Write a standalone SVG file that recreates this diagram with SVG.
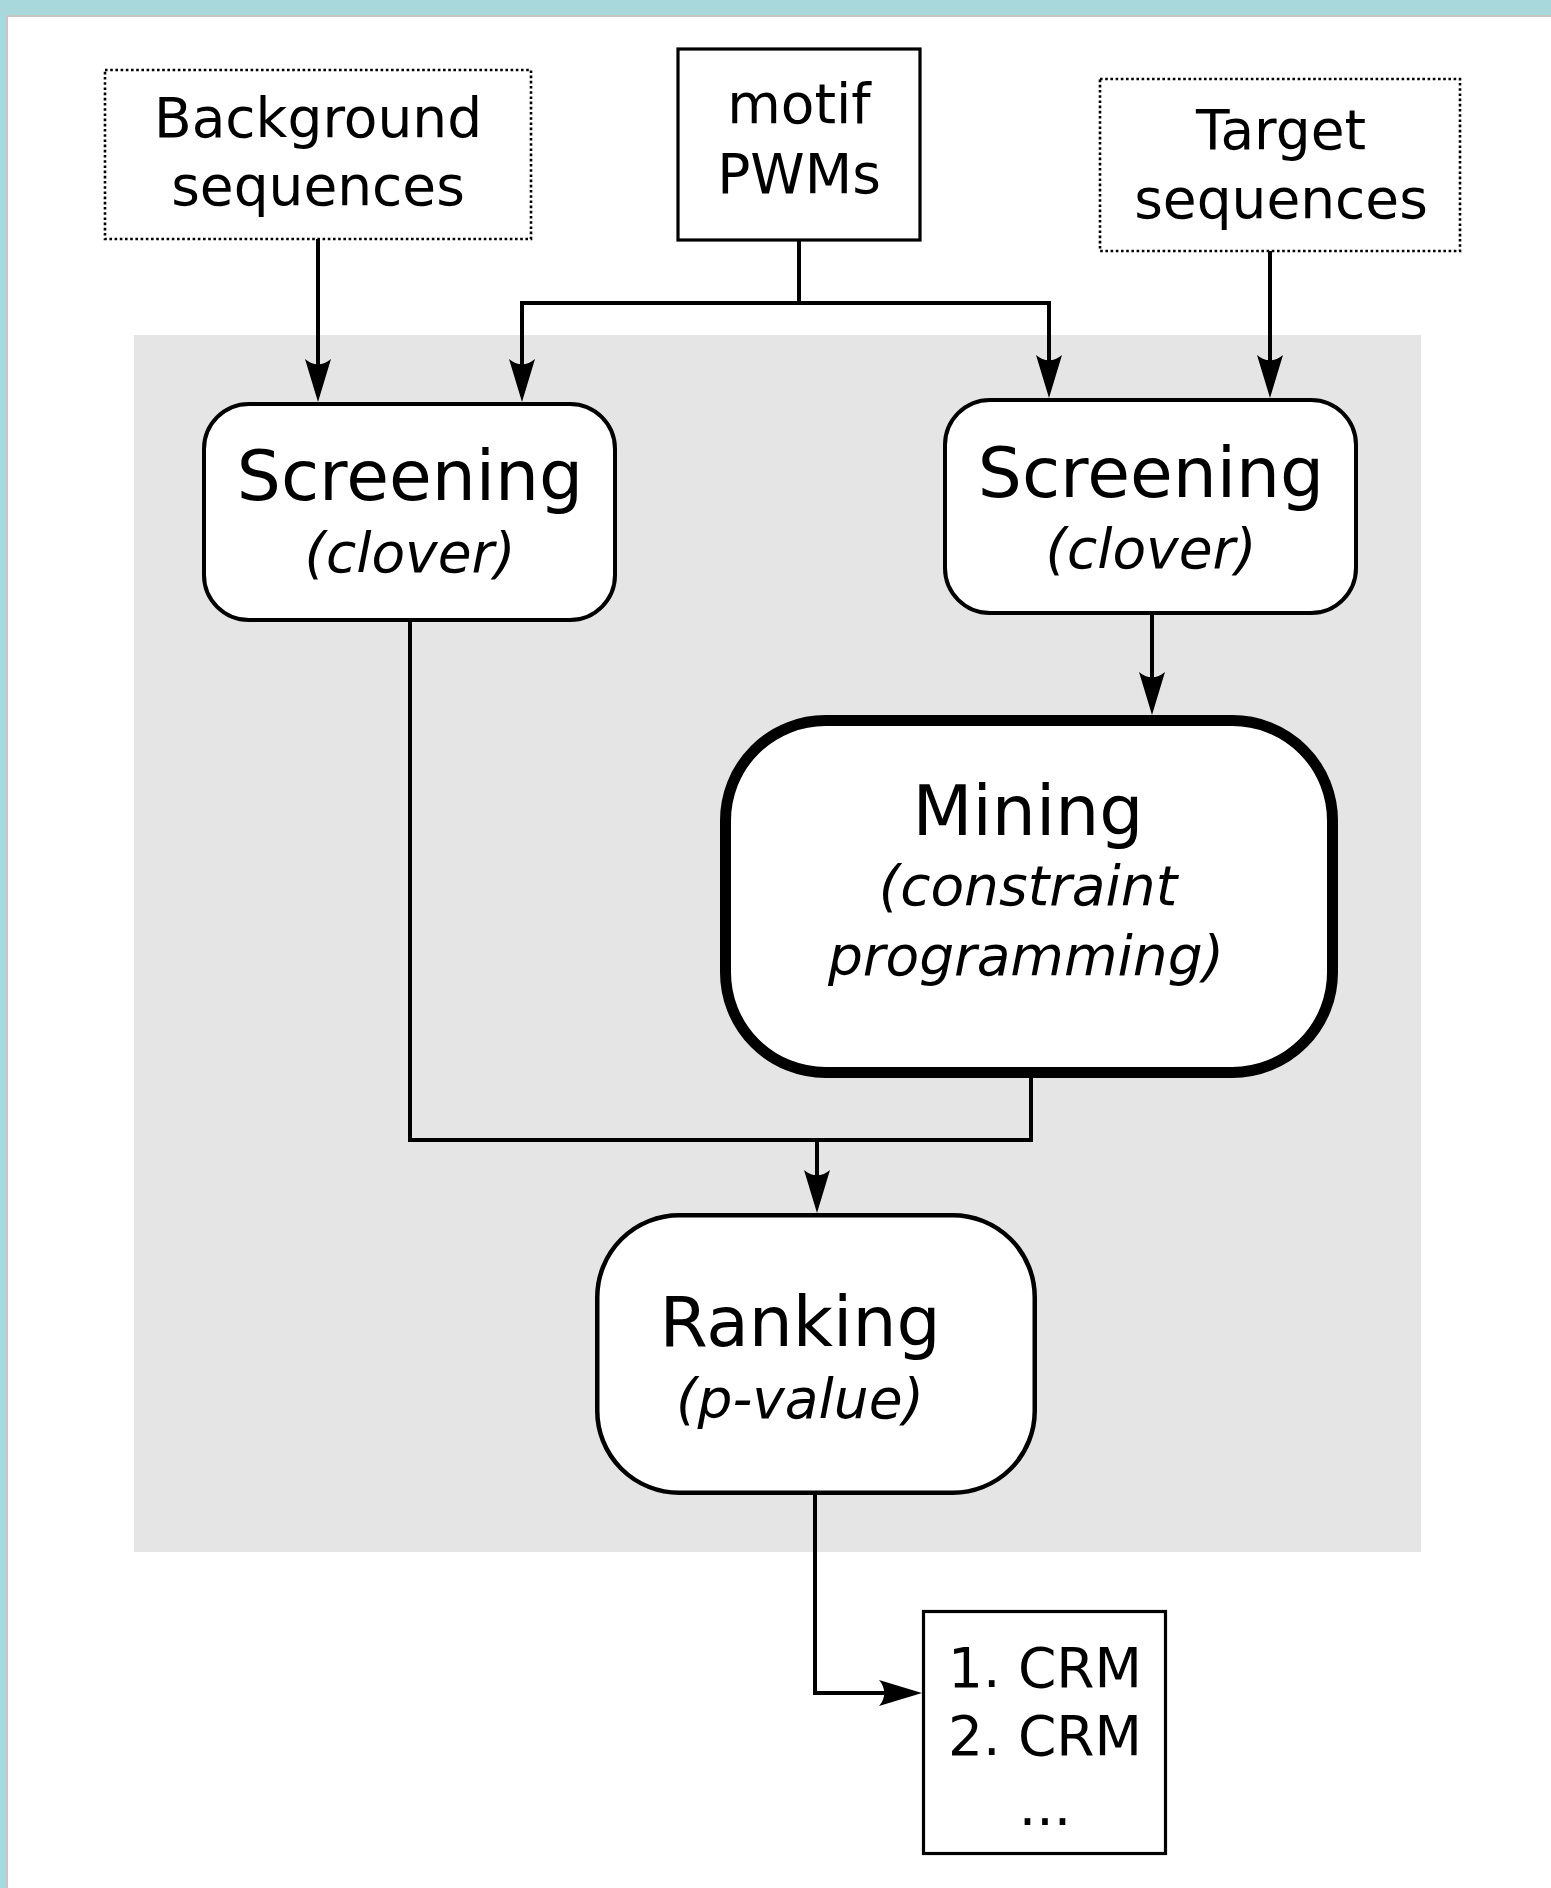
<svg xmlns="http://www.w3.org/2000/svg" width="1551" height="1888" viewBox="0 0 1551 1888">
<defs>
<style>
text{font-family:"DejaVu Sans","Liberation Sans",sans-serif;fill:#000;text-anchor:middle}
.t{font-size:69.5px}
.s{font-size:55px}
.i{font-size:55px;font-style:italic}
.dot{fill:#fff;stroke:#000;stroke-width:2.6;stroke-dasharray:2.6 2.6}
.plain{fill:#fff;stroke:#000;stroke-width:3.2}
.proc{fill:#fff;stroke:#000;stroke-width:4}
.conn{fill:none;stroke:#000;stroke-width:4;stroke-linejoin:miter}
.ar{marker-end:url(#arr)}
</style>
<marker id="arr" viewBox="-46 -15 48 30" markerWidth="48" markerHeight="30" refX="-30" refY="0" orient="auto" markerUnits="userSpaceOnUse">
<path d="M0,0 L-43,-13 C-36,-5 -36,5 -43,13 Z" fill="#000"/>
</marker>
</defs>
<rect x="0" y="0" width="1551" height="1888" fill="#a9d8dc"/>
<rect x="6" y="15" width="1545" height="1873" fill="#c9c5c2"/>
<rect x="8" y="17" width="1543" height="1871" fill="#fff"/>
<rect x="134" y="335" width="1287" height="1217" fill="#e5e5e5"/>
<g id="connectors">
<path class="conn ar" d="M318,239 V372"/>
<path class="conn ar" d="M799,241 V303 H522 V372"/>
<path class="conn ar" d="M799,303 H1049 V368"/>
<path class="conn ar" d="M1270,251 V368"/>
<path class="conn ar" d="M1152,615 V685"/>
<path class="conn ar" d="M410,622 V1140 H817 V1183"/>
<path class="conn" d="M1031,1078 V1140 H817"/>
<path class="conn ar" d="M815,1495 V1693 H892"/>
</g>
<g id="background-seq">
<rect class="dot" x="105" y="70" width="426" height="169"/>
<text class="s" x="318" y="137">Background</text>
<text class="s" x="318" y="205">sequences</text>
</g>
<g id="motif-pwms">
<rect class="plain" x="678" y="49" width="242" height="191"/>
<text class="s" x="799" y="123">motif</text>
<text class="s" x="799" y="193">PWMs</text>
</g>
<g id="target-seq">
<rect class="dot" x="1100" y="79" width="360" height="172"/>
<text class="s" x="1281" y="149">Target</text>
<text class="s" x="1281" y="218">sequences</text>
</g>
<g id="screening-left">
<rect class="proc" x="204" y="404" width="411" height="216" rx="45"/>
<text class="t" x="410" y="500">Screening</text>
<text class="i" x="410" y="572">(clover)</text>
</g>
<g id="screening-right">
<rect class="proc" x="945" y="400" width="411" height="213" rx="45"/>
<text class="t" x="1151" y="497">Screening</text>
<text class="i" x="1151" y="568">(clover)</text>
</g>
<g id="mining">
<rect x="725.5" y="720.5" width="607" height="352" rx="100" fill="#fff" stroke="#000" stroke-width="11"/>
<text class="t" x="1028" y="835">Mining</text>
<text class="i" x="1028" y="905">(constraint</text>
<text class="i" x="1026" y="975">programming)</text>
</g>
<g id="ranking">
<rect x="597.25" y="1215.25" width="437.5" height="277.5" rx="82" fill="#fff" stroke="#000" stroke-width="4.5"/>
<text class="t" x="800" y="1346">Ranking</text>
<text class="i" x="800" y="1418">(p-value)</text>
</g>
<g id="crm-list">
<rect class="plain" x="923.5" y="1611.5" width="242" height="242"/>
<text class="s" x="1045" y="1687">1. CRM</text>
<text class="s" x="1045" y="1755">2. CRM</text>
<text class="s" x="1045" y="1825">...</text>
</g>
</svg>
